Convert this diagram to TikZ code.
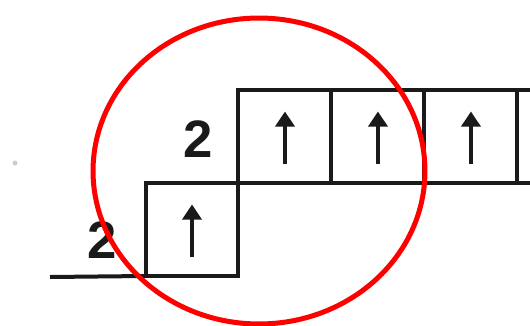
\documentclass[tikz,border=0pt]{standalone}
\usepackage{fontspec}
\setmainfont{Liberation Sans}
\usetikzlibrary{positioning,arrows.meta}
\definecolor{ringred}{HTML}{FF0000}
\definecolor{boxline}{HTML}{1A1A1A}

\tikzset{
  orbital/.style={draw=boxline, line width=0.08cm, minimum size=1.86cm,
                  inner sep=0pt, outer sep=0pt},
  spin/.style={boxline, line width=0.07cm,
               -{Triangle[width=0.38cm,length=0.3cm]}},
  level/.style={font=\bfseries\fontsize{30}{30}\selectfont, text=boxline}
}

\begin{document}
\begin{tikzpicture}[x=0.02cm,y=-0.02cm]
  \useasboundingbox (0,0) rectangle (530,325);
  % lower orbital and the row above it
  \node[orbital] (s) at (192,229.5) {};
  \node[orbital, anchor=south west] (p1) at (s.north east) {};
  \node[orbital, right=0pt of p1] (p2) {};
  \node[orbital, right=0pt of p2] (p3) {};
  % base line and cut-off edges
  \coordinate (base) at (50,277);
  \draw[boxline, line width=0.08cm] (base) -- (s.south west);
  \draw[boxline, line width=0.08cm] (p3.north east) -- ++(15,0);
  \draw[boxline, line width=0.08cm] (p3.south east) -- ++(15,0);
  % one electron in each box
  \foreach \b in {s,p1,p2,p3}
    \draw[spin] ([yshift=-0.54cm]\b.center) -- ([yshift=0.5cm]\b.center);
  % shell numbers
  \node[level] (n1) at (198,139) {2};
  \node[level] (n2) at (102,240) {2};
  \fill[gray!40] (15,163) circle (0.05cm);
  % ring
  \draw[ringred, line width=0.1cm] (259,171) ellipse [x radius=3.32cm, y radius=3.06cm];
\end{tikzpicture}
\end{document}
